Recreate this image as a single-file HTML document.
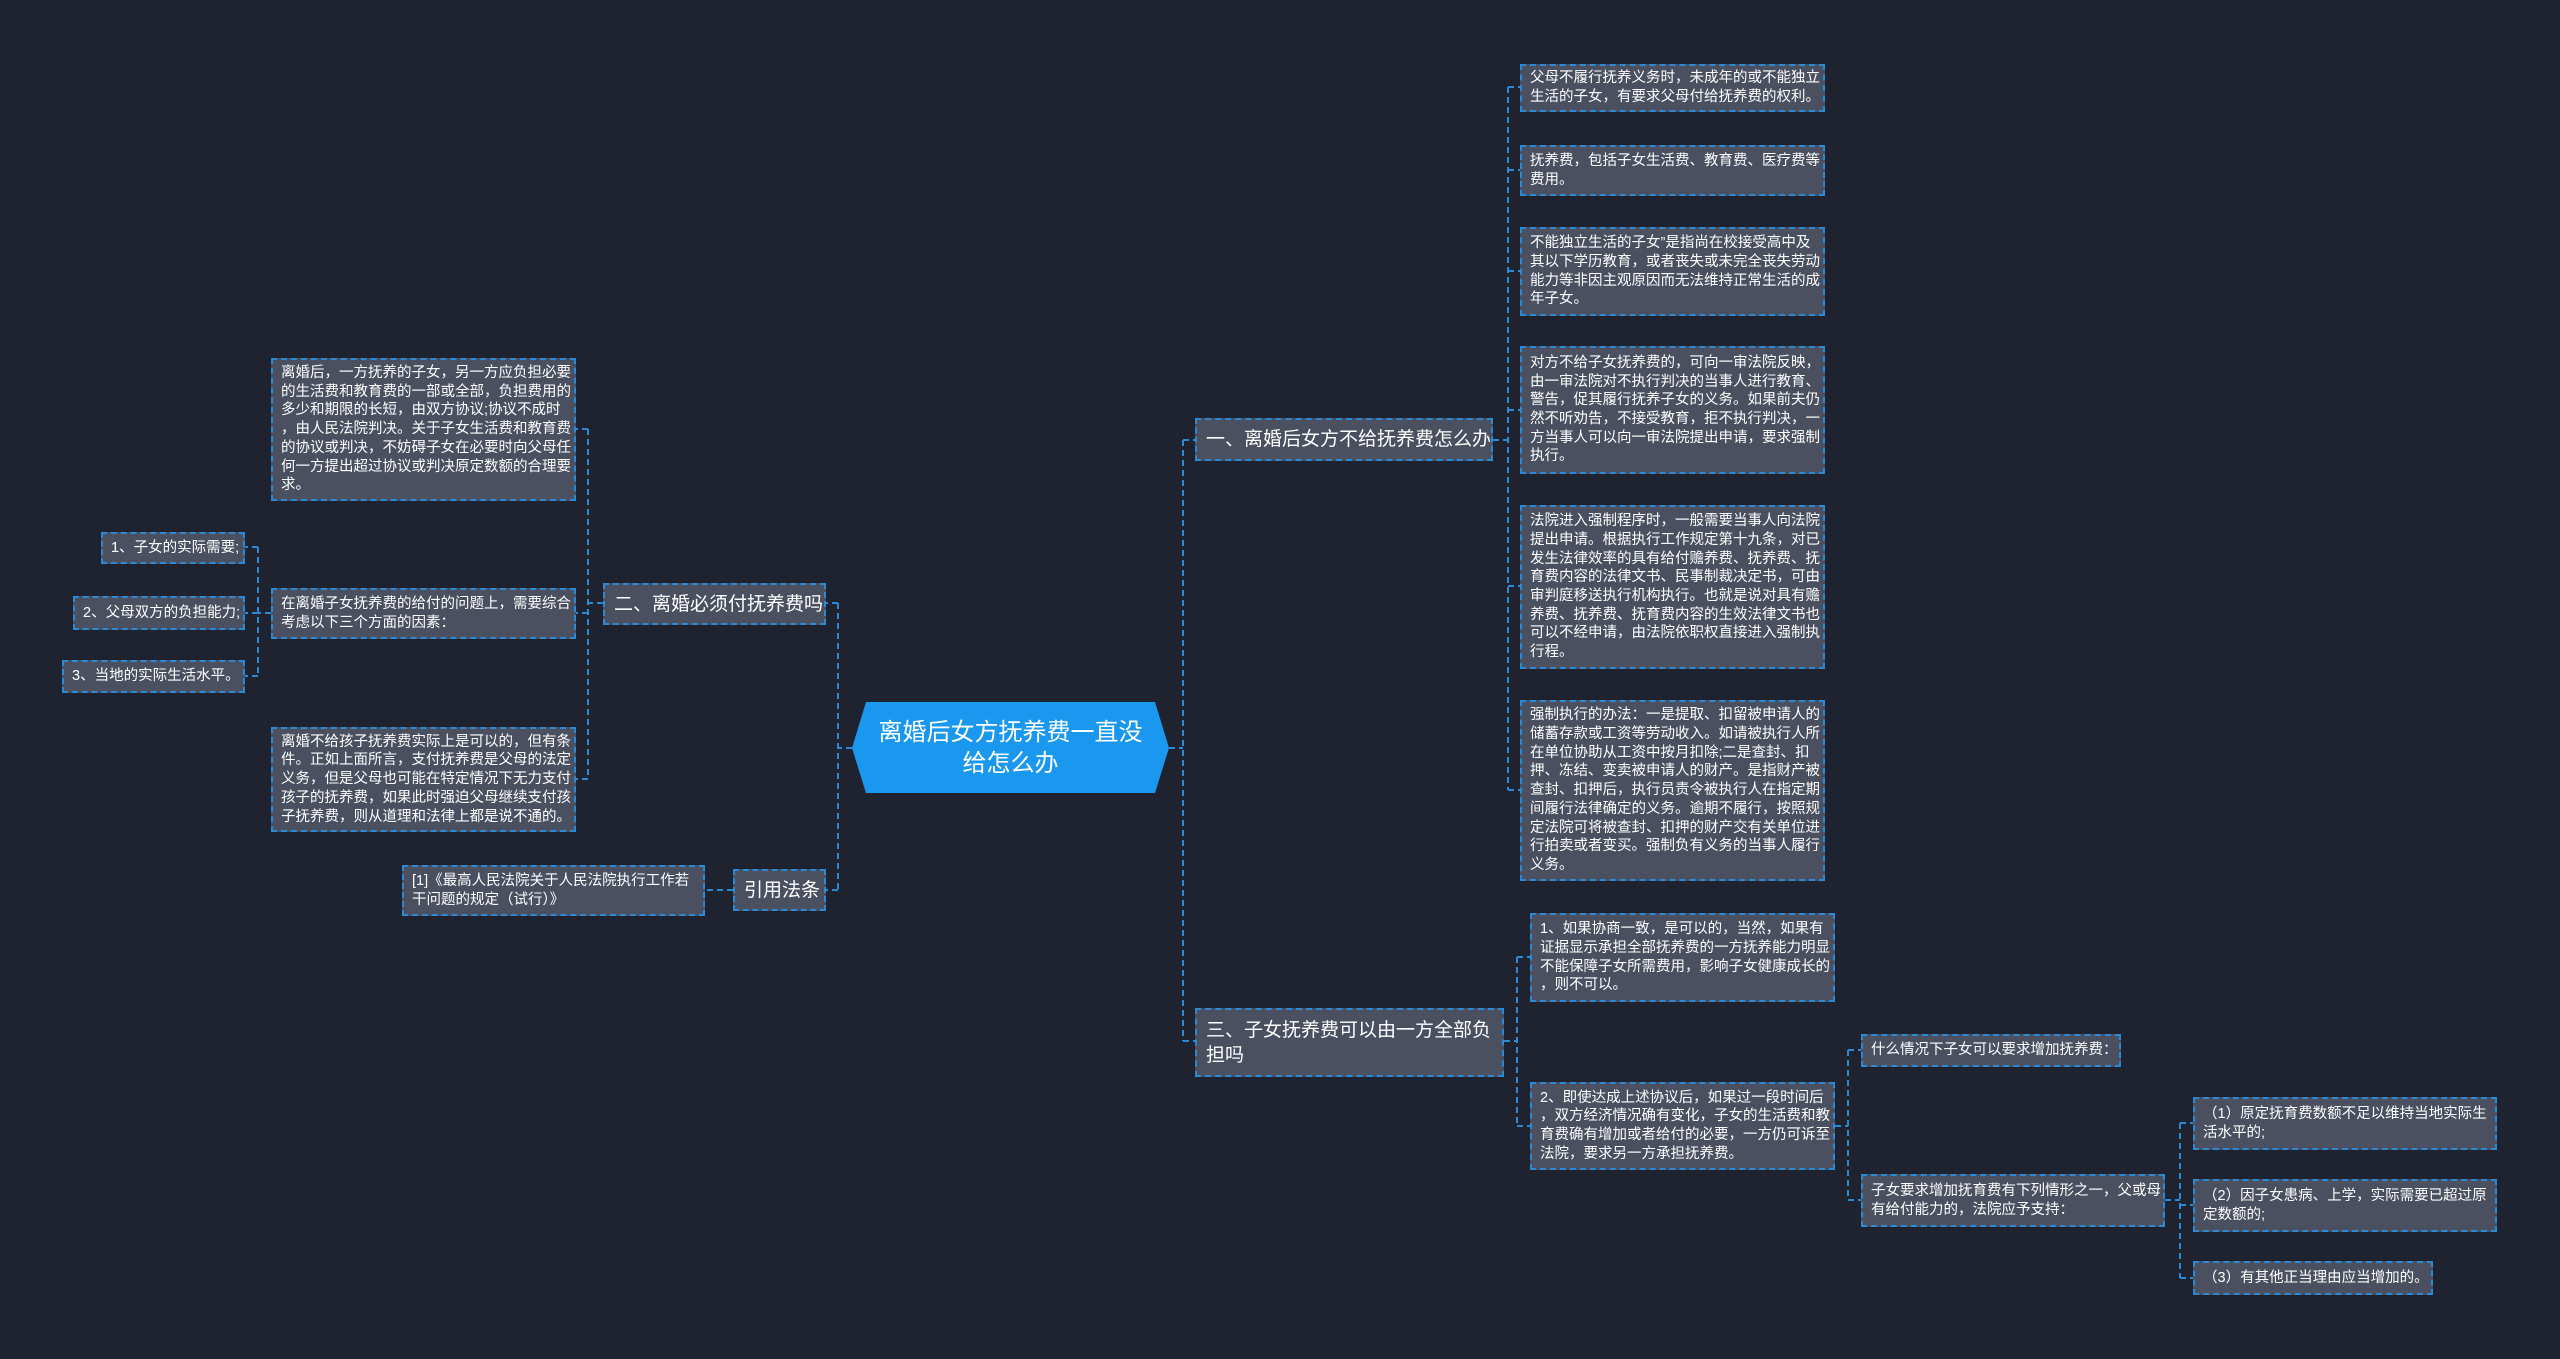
<!DOCTYPE html>
<html><head><meta charset="utf-8"><style>
html,body{margin:0;padding:0}
body{width:2560px;height:1359px;background:#1f2330;position:relative;overflow:hidden;font-family:"Liberation Sans","Noto Sans CJK SC",sans-serif;color:#fff}
.b{position:absolute;box-sizing:border-box;background:#4a5060;border:2px dashed #2b8ad6;font-size:14.5px;line-height:18.7px;padding:0 8px;display:flex;align-items:center;white-space:nowrap}
.m{font-size:19px;line-height:25px;padding:0 9px}
svg{position:absolute;left:0;top:0}
</style></head><body>
<svg width="2560" height="1359" fill="none" stroke="#2b8ad6" stroke-width="2" stroke-dasharray="6,4">
<path d="M1169 748H1183M1183 440V1041M1183 440H1195M1183 1041H1195"/>
<path d="M852 748H838M838 603V890M838 603H826M838 890H826"/>
<path d="M1493 440H1508M1508 87V790M1508 87H1520M1508 170H1520M1508 271H1520M1508 410H1520M1508 586H1520M1508 790H1520"/>
<path d="M1504 1041H1517M1517 957V1126M1517 957H1530M1517 1126H1530"/>
<path d="M1835 1126H1848M1848 1050V1200M1848 1050H1861M1848 1200H1861"/>
<path d="M2165 1200H2180M2180 1123V1278M2180 1123H2193M2180 1205H2193M2180 1278H2193"/>
<path d="M603 603H588M588 429V779M588 429H575M588 613H575M588 779H575"/>
<path d="M271 613H258M258 547V676M258 547H245M258 613H245M258 676H245"/>
<path d="M733 890H705"/>
</svg>
<svg width="2560" height="1359"><polygon points="866,702 1155,702 1169,748 1155,793 866,793 852,748" fill="#1a97ef"/></svg>
<div style="position:absolute;left:852px;top:702px;width:317px;height:91px;display:flex;align-items:center;justify-content:center;text-align:center;font-size:24px;line-height:31px;color:#fff">离婚后女方抚养费一直没<br>给怎么办</div>

<div class="b m" style="left:1195px;top:418px;width:298px;height:43px">一、离婚后女方不给抚养费怎么办</div>
<div class="b m" style="left:1195px;top:1008px;width:309px;height:69px">三、子女抚养费可以由一方全部负<br>担吗</div>
<div class="b m" style="left:603px;top:583px;width:223px;height:42px">二、离婚必须付抚养费吗</div>
<div class="b m" style="left:733px;top:869px;width:93px;height:42px">引用法条</div>

<div class="b" style="left:1520px;top:64px;width:305px;height:48px">父母不履行抚养义务时，未成年的或不能独立<br>生活的子女，有要求父母付给抚养费的权利。</div>
<div class="b" style="left:1520px;top:145px;width:305px;height:51px">抚养费，包括子女生活费、教育费、医疗费等<br>费用。</div>
<div class="b" style="left:1520px;top:227px;width:305px;height:89px">不能独立生活的子女”是指尚在校接受高中及<br>其以下学历教育，或者丧失或未完全丧失劳动<br>能力等非因主观原因而无法维持正常生活的成<br>年子女。</div>
<div class="b" style="left:1520px;top:346px;width:305px;height:128px">对方不给子女抚养费的，可向一审法院反映，<br>由一审法院对不执行判决的当事人进行教育、<br>警告，促其履行抚养子女的义务。如果前夫仍<br>然不听劝告，不接受教育，拒不执行判决，一<br>方当事人可以向一审法院提出申请，要求强制<br>执行。</div>
<div class="b" style="left:1520px;top:505px;width:305px;height:164px">法院进入强制程序时，一般需要当事人向法院<br>提出申请。根据执行工作规定第十九条，对已<br>发生法律效率的具有给付赡养费、抚养费、抚<br>育费内容的法律文书、民事制裁决定书，可由<br>审判庭移送执行机构执行。也就是说对具有赡<br>养费、抚养费、抚育费内容的生效法律文书也<br>可以不经申请，由法院依职权直接进入强制执<br>行程。</div>
<div class="b" style="left:1520px;top:700px;width:305px;height:181px">强制执行的办法：一是提取、扣留被申请人的<br>储蓄存款或工资等劳动收入。如请被执行人所<br>在单位协助从工资中按月扣除;二是查封、扣<br>押、冻结、变卖被申请人的财产。是指财产被<br>查封、扣押后，执行员责令被执行人在指定期<br>间履行法律确定的义务。逾期不履行，按照规<br>定法院可将被查封、扣押的财产交有关单位进<br>行拍卖或者变买。强制负有义务的当事人履行<br>义务。</div>

<div class="b" style="left:1530px;top:913px;width:305px;height:89px">1、如果协商一致，是可以的，当然，如果有<br>证据显示承担全部抚养费的一方抚养能力明显<br>不能保障子女所需费用，影响子女健康成长的<br>，则不可以。</div>
<div class="b" style="left:1530px;top:1082px;width:305px;height:88px">2、即使达成上述协议后，如果过一段时间后<br>，双方经济情况确有变化，子女的生活费和教<br>育费确有增加或者给付的必要，一方仍可诉至<br>法院，要求另一方承担抚养费。</div>
<div class="b" style="left:1861px;top:1034px;width:260px;height:33px">什么情况下子女可以要求增加抚养费：</div>
<div class="b" style="left:1861px;top:1174px;width:304px;height:53px">子女要求增加抚育费有下列情形之一，父或母<br>有给付能力的，法院应予支持：</div>
<div class="b" style="left:2193px;top:1097px;width:304px;height:53px">（1）原定抚育费数额不足以维持当地实际生<br>活水平的;</div>
<div class="b" style="left:2193px;top:1179px;width:304px;height:53px">（2）因子女患病、上学，实际需要已超过原<br>定数额的;</div>
<div class="b" style="left:2193px;top:1261px;width:240px;height:34px">（3）有其他正当理由应当增加的。</div>

<div class="b" style="left:271px;top:358px;width:305px;height:143px">离婚后，一方抚养的子女，另一方应负担必要<br>的生活费和教育费的一部或全部，负担费用的<br>多少和期限的长短，由双方协议;协议不成时<br>，由人民法院判决。关于子女生活费和教育费<br>的协议或判决，不妨碍子女在必要时向父母任<br>何一方提出超过协议或判决原定数额的合理要<br>求。</div>
<div class="b" style="left:271px;top:588px;width:305px;height:51px">在离婚子女抚养费的给付的问题上，需要综合<br>考虑以下三个方面的因素：</div>
<div class="b" style="left:271px;top:727px;width:305px;height:105px">离婚不给孩子抚养费实际上是可以的，但有条<br>件。正如上面所言，支付抚养费是父母的法定<br>义务，但是父母也可能在特定情况下无力支付<br>孩子的抚养费，如果此时强迫父母继续支付孩<br>子抚养费，则从道理和法律上都是说不通的。</div>
<div class="b" style="left:101px;top:532px;width:144px;height:32px">1、子女的实际需要;</div>
<div class="b" style="left:73px;top:596px;width:172px;height:34px">2、父母双方的负担能力;</div>
<div class="b" style="left:62px;top:660px;width:183px;height:33px">3、当地的实际生活水平。</div>
<div class="b" style="left:402px;top:865px;width:303px;height:51px">[1]《最高人民法院关于人民法院执行工作若<br>干问题的规定（试行）》</div>
</body></html>
